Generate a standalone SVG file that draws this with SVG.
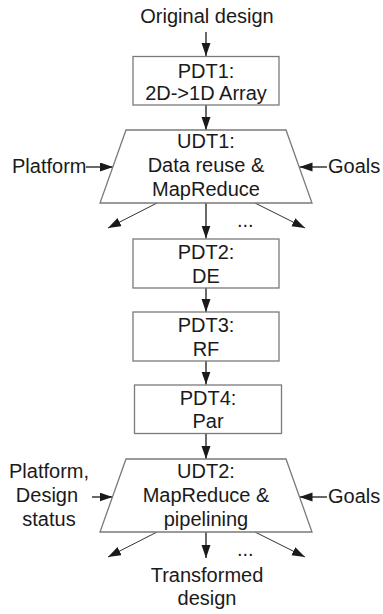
<svg xmlns="http://www.w3.org/2000/svg" width="383" height="614" viewBox="0 0 383 614">
<style>
text{font-family:"Liberation Sans",Arial,sans-serif;font-size:20px;fill:#1a1a1a}
.c{text-anchor:middle}
.box{fill:#fff;stroke:#7a7a7a;stroke-width:1.3}
.ln{stroke:#1a1a1a;stroke-width:1.3;fill:none;marker-end:url(#ah)}
.dg{stroke:#333;stroke-width:1;fill:none;marker-end:url(#ah)}
</style>
<defs>
<marker id="ah" markerUnits="userSpaceOnUse" markerWidth="14" markerHeight="10" refX="13" refY="4.5" orient="auto">
<path d="M0,0 L13,4.5 L0,9 z" fill="#1a1a1a"/>
</marker>
</defs>
<g id="connectors">
<line class="ln" x1="206" y1="32" x2="206" y2="56"/>
<line class="ln" x1="206" y1="105" x2="206" y2="130"/>
<line class="ln" x1="86" y1="167" x2="113" y2="167"/>
<line class="ln" x1="327" y1="167" x2="299.5" y2="167"/>
<line class="dg" x1="157" y1="203" x2="108" y2="228"/>
<line class="ln" x1="206" y1="203" x2="206" y2="238.5"/>
<line class="dg" x1="255" y1="203" x2="305" y2="228"/>
<line class="ln" x1="206" y1="288" x2="206" y2="312"/>
<line class="ln" x1="206" y1="361" x2="206" y2="384.5"/>
<line class="ln" x1="206" y1="433" x2="206" y2="459"/>
<line class="ln" x1="92" y1="497" x2="112.5" y2="497"/>
<line class="ln" x1="327" y1="497" x2="299.5" y2="497"/>
<line class="dg" x1="157" y1="532" x2="108" y2="557"/>
<line class="ln" x1="206" y1="532" x2="206" y2="558"/>
<line class="dg" x1="255" y1="532" x2="305" y2="557"/>
<text x="237" y="227">...</text>
<text x="237" y="556">...</text>
</g>
<g id="original"><text class="c" x="207" y="23">Original design</text></g>
<g id="pdt1">
<rect class="box" x="133" y="56.5" width="146" height="48.5"/>
<text class="c" x="206" y="78">PDT1:</text>
<text class="c" x="206" y="100">2D-&gt;1D Array</text>
</g>
<g id="udt1">
<polygon class="box" points="126,130 286,130 312,203 100,203"/>
<text class="c" x="206" y="148">UDT1:</text>
<text class="c" x="206" y="172">Data reuse &amp;</text>
<text class="c" x="206" y="196">MapReduce</text>
</g>
<g id="platform1"><text x="12" y="173">Platform</text></g>
<g id="goals1"><text x="328" y="173">Goals</text></g>
<g id="pdt2">
<rect class="box" x="133" y="239" width="146" height="49"/>
<text class="c" x="206" y="259">PDT2:</text>
<text class="c" x="206" y="283">DE</text>
</g>
<g id="pdt3">
<rect class="box" x="133" y="312" width="146" height="49"/>
<text class="c" x="206" y="332">PDT3:</text>
<text class="c" x="206" y="356">RF</text>
</g>
<g id="pdt4">
<rect class="box" x="134.5" y="385" width="147" height="48.5"/>
<text class="c" x="208" y="405">PDT4:</text>
<text class="c" x="208" y="428">Par</text>
</g>
<g id="udt2">
<polygon class="box" points="126,459 286,459 312,532 100,532"/>
<text class="c" x="206" y="478">UDT2:</text>
<text class="c" x="206" y="502">MapReduce &amp;</text>
<text class="c" x="206" y="526">pipelining</text>
</g>
<g id="platform2">
<text class="c" x="49" y="478">Platform,</text>
<text class="c" x="47" y="502">Design</text>
<text class="c" x="49" y="526">status</text>
</g>
<g id="goals2"><text x="328" y="503">Goals</text></g>
<g id="transformed">
<text class="c" x="207" y="582">Transformed</text>
<text class="c" x="207" y="605">design</text>
</g>
</svg>
